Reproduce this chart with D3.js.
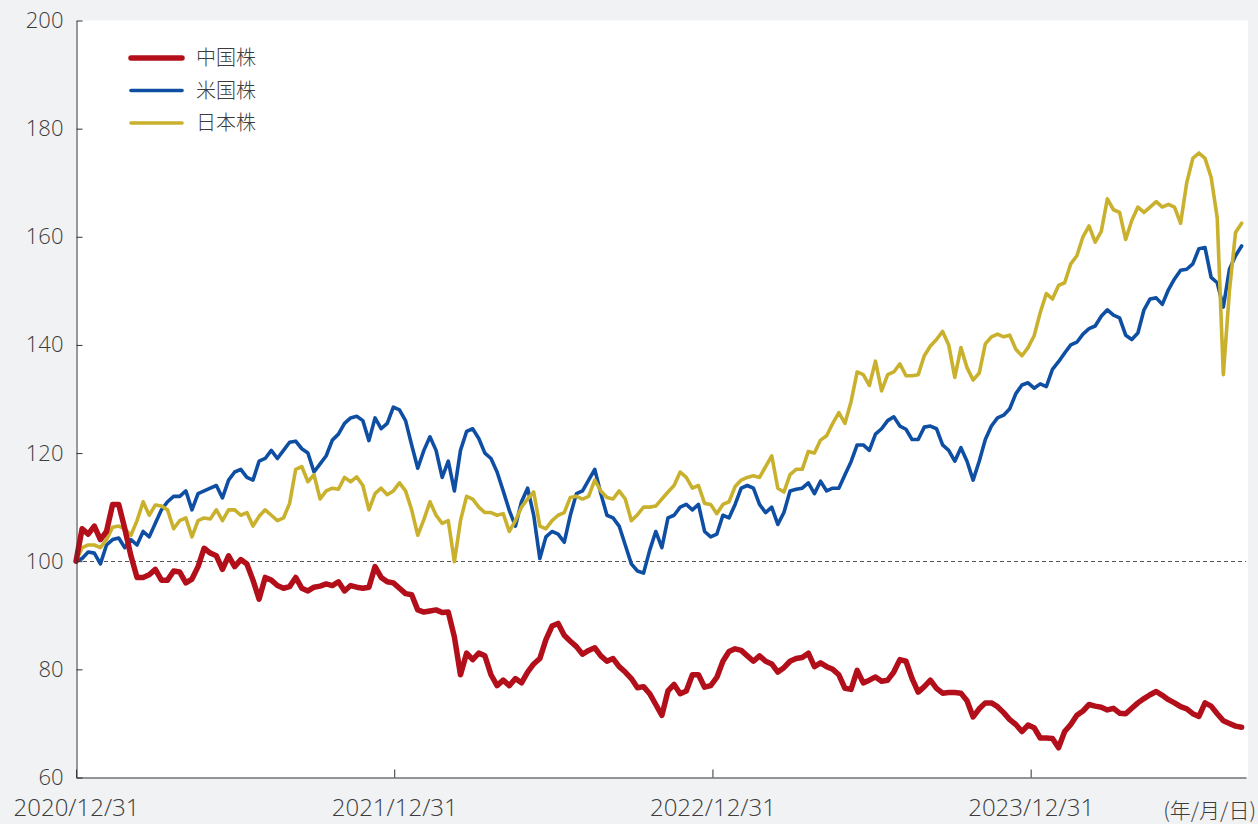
<!DOCTYPE html>
<html>
<head>
<meta charset="utf-8">
<script src="https://cdn.jsdelivr.net/npm/d3@7"></script>
<style>
  body { margin: 0; background: #f1f2f4; }
  svg { display: block; font-family: "Open Sans", "Noto Sans CJK JP", sans-serif; }
</style>
</head>
<body>
<script>
var width = 1258;
var height = 824;

// weekly closes, indexed to 100 on 2020/12/31
var china = [100,106,105,106.5,104,105.5,110.5,110.5,106,101,97,97,97.5,98.5,96.5,96.5,98.2,98,96,96.7,99,102.4,101.5,101,98.5,101,99,100.3,99.5,96.5,93,97,96.5,
  95.5,95,95.3,97,95,94.5,95.2,95.4,95.8,95.5,96.2,94.5,95.5,95.2,95,95.2,99,97,96.2,96,95,94,93.8,91,90.6,90.8,91,90.5,90.6,86,79,83,81.8,
  83,82.5,79,77,78,77,78.3,77.5,79.5,81,82,85.5,88,88.5,86.3,85.2,84.2,82.8,83.5,84,82.5,81.5,82,80.5,79.5,78.3,76.6,76.8,75.5,73.5,71.5,76,77.2,
  75.5,76,79,79,76.7,77,78.5,81.5,83.3,83.8,83.5,82.5,81.5,82.5,81.5,81,79.5,80.3,81.5,82,82.2,83,80.5,81.2,80.5,80,79,76.5,76.3,79.8,77.5,78,78.6,
  77.8,78,79.5,81.8,81.5,78.3,75.8,76.8,78,76.5,75.6,75.7,75.7,75.6,74.2,71.2,72.7,73.8,73.8,73.1,72,70.7,69.8,68.5,69.7,69.2,67.3,67.3,67.2,65.5,68.5,69.8,
  71.5,72.3,73.5,73.2,73,72.5,72.8,71.9,71.8,72.8,73.8,74.6,75.3,75.9,75.2,74.4,73.8,73.1,72.7,71.8,71.3,73.8,73.2,71.8,70.5,70,69.5,69.3];

var usa = [100,100.5,101.7,101.5,99.5,103,104,104.3,102.5,104,103,105.5,104.5,107,109.5,111,112,112,113,109.5,112.5,113,113.5,114,111.7,115,116.5,117,115.5,115,118.5,119,120.5,
  119,120.5,122,122.2,120.8,120,116.5,118,119.5,122.4,123.5,125.5,126.5,126.8,126,122.3,126.5,124.5,125.5,128.5,128,126,121.5,117.2,120.5,123,120.5,115.5,118.5,113,120.5,124,124.5,
  122.7,120,119,116.5,113,109.4,106.5,111,113.5,108.5,100.5,104.5,105.5,105,103.5,108.5,112.5,113,115,117,112.5,108.5,108,106.5,103,99.5,98.2,97.8,102,105.5,102.5,108,108.5,
  110,110.5,109.5,110.5,105.5,104.5,105,108.5,108,110.5,113.5,114,113.5,110.5,109,110,106.8,109,113,113.3,113.5,114.5,112.5,114.8,113,113.5,113.5,116,118.4,121.5,121.5,120.5,123.5,
  124.5,126,126.7,125,124.4,122.5,122.5,124.8,125,124.5,121.5,120.5,118.5,121,118.5,115,118.5,122.5,125,126.5,127,128.2,131,132.6,133,132,132.8,132.3,135.5,136.9,138.5,140,
  140.5,142,143,143.5,145.3,146.5,145.5,145,141.8,141,142.2,146.5,148.5,148.7,147.5,150.2,152.2,153.8,154,155,157.8,158,152.5,151.5,147,154,156.5,158.3];

var japan = [100,102.5,103,103,102.5,104,106.3,106.5,106,104.8,107.5,111,108.5,110.4,110.2,109.5,106,107.5,108,104.5,107.5,108,107.8,109.5,107.5,109.5,109.5,108.5,109,106.5,108.3,109.5,108.5,
  107.5,108,110.7,117,117.5,114.7,116,111.5,113,113.5,113.3,115.5,114.7,115.6,114,109.5,112.5,113.5,112.3,113,114.5,113,109.5,104.8,107.7,111,108.5,107,107.5,99.9,107.5,112,111.5,
  110,109,109,108.5,108.8,105.5,107.5,110,111.5,112.8,106.5,106,107.5,108.5,109,111.8,112,111.5,112,115,113,111.8,111.5,113,111.5,107.5,108.6,110,110,110.2,111.5,112.8,114,
  116.5,115.5,113.5,114,110.7,110.5,108.8,110.5,111,113.8,115,115.5,115.8,115.5,117.5,119.5,113.5,112.8,116,117,117,120.3,120,122.4,123.2,125.5,127.5,125.5,129.5,135,134.5,132.5,137,
  131.5,134.5,135,136.5,134.3,134.3,134.5,138,139.8,141,142.5,140,134,139.5,135.8,133.5,134.8,140.2,141.5,142,141.5,141.8,139.2,138,139.5,141.7,146,149.5,148.5,151,151.5,155,
  156.5,160,162,159,161,167,165,164.5,159.5,163,165.5,164.5,165.5,166.5,165.5,166,165.5,162.5,170,174.5,175.5,174.5,171,163.5,134.5,150,160.8,162.5];

var seriesNames = ['中国株', '米国株', '日本株'];
var seriesColors = ['#b20f1b', '#0f4fa3', '#c9b12e'];
var seriesWidths = [5.5, 3.6, 3.6];
var yTicks = [60, 80, 100, 120, 140, 160, 180, 200];
var xTickDates = ['2020-12-31', '2021-12-31', '2022-12-31', '2023-12-31'];
var startDate = new Date(2020, 11, 31);
var endDate = new Date(2024, 8, 3);

var dates = china.map(function (d, i) { return d3.timeDay.offset(startDate, 7 * i); });
var parse = d3.timeParse('%Y-%m-%d');

var svg = d3.select('body')
  .append('svg')
  .attr('width', width)
  .attr('height', height);

var x = d3.scaleTime().domain([startDate, endDate]).range([76, 1246]);
var y = d3.scaleLinear().domain([60, 200]).range([777.5, 20.5]);

// white plot area
svg.append('rect')
  .attr('x', x.range()[0])
  .attr('y', y.range()[1])
  .attr('width', x.range()[1] - x.range()[0] + 2)
  .attr('height', y.range()[0] - y.range()[1])
  .attr('fill', '#fff');

// 100 reference line
svg.append('line')
  .attr('x1', x.range()[0])
  .attr('x2', x.range()[1])
  .attr('y1', Math.round(y(100)) + 0.5)
  .attr('y2', Math.round(y(100)) + 0.5)
  .attr('stroke', '#555')
  .attr('stroke-dasharray', '4,3');

var line = d3.line()
  .x(function (d) { return x(d[0]); })
  .y(function (d) { return y(d[1]); });

var allSeries = [china, usa, japan];
var drawOrder = [1, 2, 0]; // red on top
var lines = svg.append('g');
drawOrder.forEach(function (k) {
  lines.append('path')
    .datum(allSeries[k].map(function (v, i) { return [dates[i], v]; }))
    .attr('fill', 'none')
    .attr('stroke', seriesColors[k])
    .attr('stroke-width', seriesWidths[k])
    .attr('stroke-linejoin', 'round')
    .attr('stroke-linecap', 'round')
    .attr('d', line);
});

// axes
var yAxis = svg.append('g')
  .attr('transform', 'translate(76.5,0)')
  .call(d3.axisLeft(y).tickValues(yTicks).tickSizeInner(-6).tickSizeOuter(0).tickPadding(13));

var xAxis = svg.append('g')
  .attr('transform', 'translate(0,' + 777.5 + ')')
  .call(d3.axisBottom(x)
    .tickValues(xTickDates.map(parse))
    .tickFormat(d3.timeFormat('%Y/%m/%d'))
    .tickSizeInner(-8).tickSizeOuter(0).tickPadding(24));

[yAxis, xAxis].forEach(function (g) {
  g.selectAll('path, line').attr('stroke', '#333');
  g.selectAll('text').attr('fill', '#3c3c3c')
    .style('font-family', '"Open Sans", sans-serif')
    .style('font-weight', 300);
});
yAxis.selectAll('text').style('font-size', '22px');
xAxis.selectAll('text').style('font-size', '24px').attr('dy', '0.62em');

svg.append('text')
  .attr('x', 1256)
  .attr('y', 818)
  .attr('text-anchor', 'end')
  .attr('fill', '#3c3c3c')
  .style('font-family', '"Noto Sans CJK JP", sans-serif')
  .style('font-weight', 300)
  .style('font-size', '21px')
  .text('(年/月/日)');

// legend
var legend = svg.append('g');
seriesNames.forEach(function (name, k) {
  var ly = 58 + k * 32.5;
  legend.append('line')
    .attr('x1', 131).attr('x2', 182)
    .attr('y1', ly).attr('y2', ly)
    .attr('stroke', seriesColors[k])
    .attr('stroke-width', seriesWidths[k])
    .attr('stroke-linecap', 'round');
  legend.append('text')
    .attr('x', 196)
    .attr('y', ly)
    .attr('dy', '0.36em')
    .attr('fill', '#3c3c3c')
    .style('font-family', '"Noto Sans CJK JP", sans-serif')
    .style('font-weight', 300)
    .style('font-size', '20px')
    .text(name);
});
</script>
</body>
</html>
